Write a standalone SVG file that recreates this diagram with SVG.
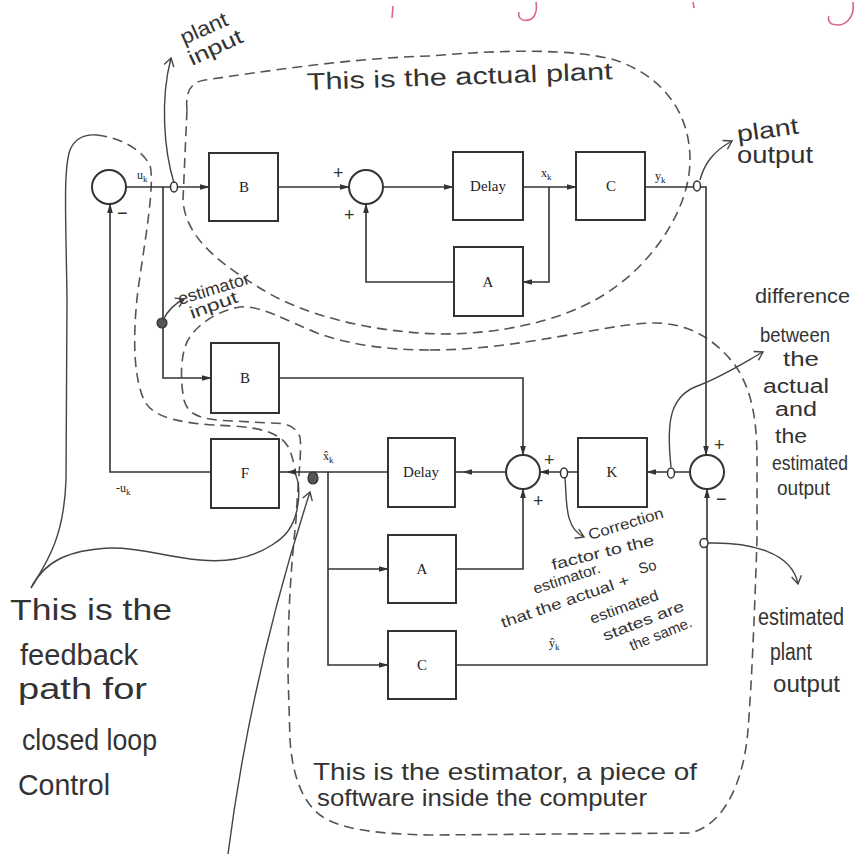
<svg xmlns="http://www.w3.org/2000/svg" width="857" height="854" viewBox="0 0 857 854">
<defs>
<style>
.ln{fill:none;stroke:#333;stroke-width:1.6}
.box{fill:#fff;stroke:#333;stroke-width:2}
.sum{fill:#fff;stroke:#333;stroke-width:2}
.jn{fill:#fff;stroke:#333;stroke-width:1.5}
.dot{fill:#555;stroke:#333;stroke-width:1.2}
.lbl{font-family:"Liberation Serif","DejaVu Serif",serif;font-size:15px;fill:#222;text-anchor:middle}
.sl{font-family:"Liberation Serif","DejaVu Serif",serif;font-size:12px;fill:#222}
.sg{font-family:"Liberation Sans",sans-serif;font-size:18px;fill:#333}
.hw{font-family:"Liberation Sans","DejaVu Sans",sans-serif;fill:#333}
.dash{fill:none;stroke:#555;stroke-width:1.6;stroke-dasharray:10 6}
.hl{fill:none;stroke:#444;stroke-width:1.4}
.pink{fill:none;stroke:#d9668f;stroke-width:1.6}
</style>
<marker id="ar" markerWidth="10" markerHeight="8" refX="9" refY="4" orient="auto" markerUnits="userSpaceOnUse">
<path d="M0,1.2 L10,4 L0,6.8 z" fill="#333"/>
</marker>
<marker id="oa" markerWidth="12" markerHeight="12" refX="9" refY="6" orient="auto" markerUnits="userSpaceOnUse">
<path d="M1,1 L9,6 L1,11" fill="none" stroke="#444" stroke-width="1.4"/>
</marker>
</defs>
<rect width="857" height="854" fill="#fff"/>

<!-- pink fragments at top -->
<g id="top-marks">
<path class="pink" d="M393,6 L392,18"/>
<path class="pink" d="M536,2 C538,14 533,22 523,20 C519,19 518,15 519,12"/>
<path class="pink" d="M693,2 L694,8"/>
<path class="pink" d="M853,2 C855,18 845,28 832,24 C828,22 828,18 829,16"/>
</g>

<!-- boundaries -->
<g id="plant-boundary">
<path class="dash" d="M187,110 C185,90 192,82 205,80 C260,72 350,58 430,56 C500,50 570,48 615,60 C660,75 690,110 690,160 C690,210 650,270 595,300 C555,322 500,334 440,334 C370,332 300,315 255,285 C215,260 185,235 183,200 Z"/>
</g>
<g id="estimator-boundary">
<path class="dash" d="M430,350 C520,350 600,325 650,323 C690,322 715,340 735,365 C752,390 757,420 757,460 L757,540 C755,600 752,680 748,730 C744,780 725,825 690,833 L430,835 C380,834 340,830 320,815 C300,800 292,770 290,740 L288,673 C288,600 292,560 296,520 C298,480 302,450 300,437 C295,425 285,423 270,423 L233,421 C200,420 188,415 184,400 C180,380 180,350 190,337 C200,322 220,310 240,307 C260,305 285,320 317,333 C350,345 390,350 430,350 Z"/>
</g>
<g id="feedback-region">
<path class="dash" d="M97,135 C120,138 140,148 150,165 C155,185 145,240 138,290 C132,340 134,380 145,402 C155,418 180,424 233,426 C260,428 280,432 289,448 C293,458 295,468 296,476"/>
<path class="hl" d="M97,135 C85,134 75,138 70,150 C63,170 66,220 67,300 L66,480 C64,540 45,565 31,588"/>
<path class="hl" d="M31,588 C45,560 70,550 110,548 C140,547 165,557 200,560 C230,563 255,556 272,545 C285,537 293,528 297,510 C300,495 299,482 296,476"/>
</g>

<!-- connectors -->
<g id="connectors">
<path class="ln" d="M126,187 H209" marker-end="url(#ar)"/>
<path class="ln" d="M278,187 H349" marker-end="url(#ar)"/>
<path class="ln" d="M383,187 H453" marker-end="url(#ar)"/>
<path class="ln" d="M523,187 H576" marker-end="url(#ar)"/>
<path class="ln" d="M549,187 V282 H523" marker-end="url(#ar)"/>
<path class="ln" d="M454,282 H366 V204" marker-end="url(#ar)"/>
<path class="ln" d="M645,187 H706 V455" marker-end="url(#ar)"/>
<path class="ln" d="M163,187 V378 H211" marker-end="url(#ar)"/>
<path class="ln" d="M279,378 H523 V455" marker-end="url(#ar)"/>
<path class="ln" d="M690,472 H647" marker-end="url(#ar)"/>
<path class="ln" d="M578,472 H540" marker-end="url(#ar)"/>
<path class="ln" d="M506,472 H463" marker-end="url(#ar)"/>
<path class="ln" d="M463,472 H455"/>
<path class="ln" d="M388,472 H287" marker-end="url(#ar)"/>
<path class="ln" d="M287,472 H279"/>
<path class="ln" d="M211,472 H110 V204" marker-end="url(#ar)"/>
<path class="ln" d="M328,472 V665 H388" marker-end="url(#ar)"/>
<path class="ln" d="M328,569 H388" marker-end="url(#ar)"/>
<path class="ln" d="M456,569 H523 V489" marker-end="url(#ar)"/>
<path class="ln" d="M456,665 H707 V489" marker-end="url(#ar)"/>
</g>

<!-- nodes -->
<g id="sum1"><circle class="sum" cx="109" cy="187" r="17"/><text class="sg" x="117" y="219">−</text></g>
<g id="B-plant"><rect class="box" x="209" y="153" width="69" height="68"/><text class="lbl" x="244" y="192">B</text></g>
<g id="sum2"><circle class="sum" cx="366" cy="187" r="17"/><text class="sg" x="333" y="179">+</text><text class="sg" x="344" y="221">+</text></g>
<g id="Delay-plant"><rect class="box" x="453" y="152" width="70" height="68"/><text class="lbl" x="488" y="191">Delay</text></g>
<g id="C-plant"><rect class="box" x="576" y="152" width="69" height="68"/><text class="lbl" x="611" y="191">C</text></g>
<g id="A-plant"><rect class="box" x="454" y="247" width="69" height="69"/><text class="lbl" x="488" y="287">A</text></g>
<g id="B-est"><rect class="box" x="211" y="343" width="68" height="70"/><text class="lbl" x="245" y="383">B</text></g>
<g id="F"><rect class="box" x="211" y="439" width="68" height="69"/><text class="lbl" x="245" y="478">F</text></g>
<g id="Delay-est"><rect class="box" x="388" y="438" width="67" height="69"/><text class="lbl" x="421" y="477">Delay</text></g>
<g id="sum3"><circle class="sum" cx="523" cy="472" r="17"/><text class="sg" x="544" y="466">+</text><text class="sg" x="533" y="507">+</text></g>
<g id="K"><rect class="box" x="578" y="438" width="69" height="69"/><text class="lbl" x="612" y="477">K</text></g>
<g id="sum4"><circle class="sum" cx="707" cy="472" r="17"/><text class="sg" x="714" y="451">+</text><text class="sg" x="716" y="505">−</text></g>
<g id="A-est"><rect class="box" x="388" y="535" width="68" height="68"/><text class="lbl" x="422" y="574">A</text></g>
<g id="C-est"><rect class="box" x="388" y="631" width="68" height="68"/><text class="lbl" x="422" y="670">C</text></g>

<!-- signal labels -->
<g id="signal-labels">
<text class="sl" x="137" y="179">u<tspan font-size="9" dy="3">k</tspan></text>
<text class="sl" x="541" y="177">x<tspan font-size="9" dy="3">k</tspan></text>
<text class="sl" x="655" y="180">y<tspan font-size="9" dy="3">k</tspan></text>
<text class="sl" x="116" y="492">-u<tspan font-size="9" dy="3">k</tspan></text>
<text class="sl" x="323" y="460">x̂<tspan font-size="9" dy="3">k</tspan></text>
<text class="sl" x="549" y="647">ŷ<tspan font-size="9" dy="3">k</tspan></text>
</g>

<!-- junction markers -->
<g id="junctions">
<ellipse class="jn" cx="174" cy="187" rx="3.5" ry="5"/>
<ellipse class="jn" cx="697" cy="186" rx="3.5" ry="5"/>
<ellipse class="jn" cx="564" cy="473" rx="3.5" ry="5"/>
<ellipse class="jn" cx="671" cy="473" rx="3.5" ry="5"/>
<ellipse class="jn" cx="704" cy="543" rx="4" ry="4.5"/>
<circle class="dot" cx="162" cy="323" r="5"/>
<ellipse class="dot" cx="313" cy="478" rx="5" ry="6"/>
</g>

<!-- annotation pointers -->
<g id="pointers">
<path class="hl" d="M174,183 C164,150 160,100 171,58" marker-end="url(#oa)"/>
<path class="hl" d="M700,180 C704,165 712,152 732,141" marker-end="url(#oa)"/>
<path class="hl" d="M163,320 C167,312 172,305 184,299" marker-end="url(#oa)"/>
<path class="hl" d="M671,467 C666,420 670,395 700,385 C725,375 745,362 763,352" marker-end="url(#oa)"/>
<path class="hl" d="M565,478 C567,500 564,528 584,537" marker-end="url(#oa)"/>
<path class="hl" d="M708,543 C750,542 792,552 798,584" marker-end="url(#oa)"/>
<path class="hl" d="M228,854 C240,760 262,640 310,492" marker-end="url(#oa)"/>
</g>

<!-- annotations -->
<g id="annotations">
<text class="hw" font-size="21" transform="rotate(-24 184 45)" x="184" y="45" textLength="50" lengthAdjust="spacingAndGlyphs">plant</text>
<text class="hw" font-size="21" transform="rotate(-25 192 66)" x="192" y="66" textLength="58" lengthAdjust="spacingAndGlyphs">input</text>
<text class="hw" font-size="24" transform="rotate(-2 307 90)" x="307" y="90" textLength="306" lengthAdjust="spacingAndGlyphs">This is the actual plant</text>
<text class="hw" font-size="23" transform="rotate(-8 738 142)" x="738" y="142" textLength="62" lengthAdjust="spacingAndGlyphs">plant</text>
<text class="hw" font-size="23" x="737" y="163" textLength="76" lengthAdjust="spacingAndGlyphs">output</text>
<text class="hw" font-size="17" transform="rotate(-17 180 305)" x="180" y="305" textLength="74" lengthAdjust="spacingAndGlyphs">estimator</text>
<text class="hw" font-size="17" transform="rotate(-20 192 319)" x="192" y="319" textLength="50" lengthAdjust="spacingAndGlyphs">input</text>
<text class="hw" font-size="20" x="755" y="303" textLength="95" lengthAdjust="spacingAndGlyphs">difference</text>
<text class="hw" font-size="20" x="760" y="342" textLength="70" lengthAdjust="spacingAndGlyphs">between</text>
<text class="hw" font-size="20" x="783" y="366" textLength="36" lengthAdjust="spacingAndGlyphs">the</text>
<text class="hw" font-size="20" x="763" y="393" textLength="66" lengthAdjust="spacingAndGlyphs">actual</text>
<text class="hw" font-size="20" x="775" y="416" textLength="42" lengthAdjust="spacingAndGlyphs">and</text>
<text class="hw" font-size="20" x="775" y="443" textLength="32" lengthAdjust="spacingAndGlyphs">the</text>
<text class="hw" font-size="20" x="772" y="470" textLength="76" lengthAdjust="spacingAndGlyphs">estimated</text>
<text class="hw" font-size="20" x="777" y="495" textLength="53" lengthAdjust="spacingAndGlyphs">output</text>
<text class="hw" font-size="15" transform="rotate(-17 590 540)" x="590" y="540" textLength="78" lengthAdjust="spacingAndGlyphs">Correction</text>
<text class="hw" font-size="15" transform="rotate(-14 553 570)" x="553" y="570" textLength="105" lengthAdjust="spacingAndGlyphs">factor to the</text>
<text class="hw" font-size="15" transform="rotate(-18 535 594)" x="535" y="594" textLength="70" lengthAdjust="spacingAndGlyphs">estimator.</text>
<text class="hw" font-size="15" transform="rotate(-15 640 574)" x="640" y="574" textLength="18" lengthAdjust="spacingAndGlyphs">So</text>
<text class="hw" font-size="15" transform="rotate(-19 503 628)" x="503" y="628" textLength="135" lengthAdjust="spacingAndGlyphs">that the actual +</text>
<text class="hw" font-size="15" transform="rotate(-20 592 624)" x="592" y="624" textLength="72" lengthAdjust="spacingAndGlyphs">estimated</text>
<text class="hw" font-size="15" transform="rotate(-21 605 641)" x="605" y="641" textLength="86" lengthAdjust="spacingAndGlyphs">states are</text>
<text class="hw" font-size="15" transform="rotate(-22 632 651)" x="632" y="651" textLength="66" lengthAdjust="spacingAndGlyphs">the same.</text>
<text class="hw" font-size="23" x="758" y="625" textLength="86" lengthAdjust="spacingAndGlyphs">estimated</text>
<text class="hw" font-size="23" x="770" y="660" textLength="42" lengthAdjust="spacingAndGlyphs">plant</text>
<text class="hw" font-size="23" x="773" y="692" textLength="67" lengthAdjust="spacingAndGlyphs">output</text>
<text class="hw" font-size="30" x="10" y="620" textLength="162" lengthAdjust="spacingAndGlyphs">This is the</text>
<text class="hw" font-size="30" x="20" y="665" textLength="118" lengthAdjust="spacingAndGlyphs">feedback</text>
<text class="hw" font-size="30" x="18" y="699" textLength="129" lengthAdjust="spacingAndGlyphs">path for</text>
<text class="hw" font-size="30" x="22" y="750" textLength="135" lengthAdjust="spacingAndGlyphs">closed loop</text>
<text class="hw" font-size="30" x="18" y="795" textLength="92" lengthAdjust="spacingAndGlyphs">Control</text>
<text class="hw" font-size="24" x="313" y="780" textLength="384" lengthAdjust="spacingAndGlyphs">This is the estimator, a piece of</text>
<text class="hw" font-size="24" x="317" y="806" textLength="330" lengthAdjust="spacingAndGlyphs">software inside the computer</text>
</g>
</svg>
